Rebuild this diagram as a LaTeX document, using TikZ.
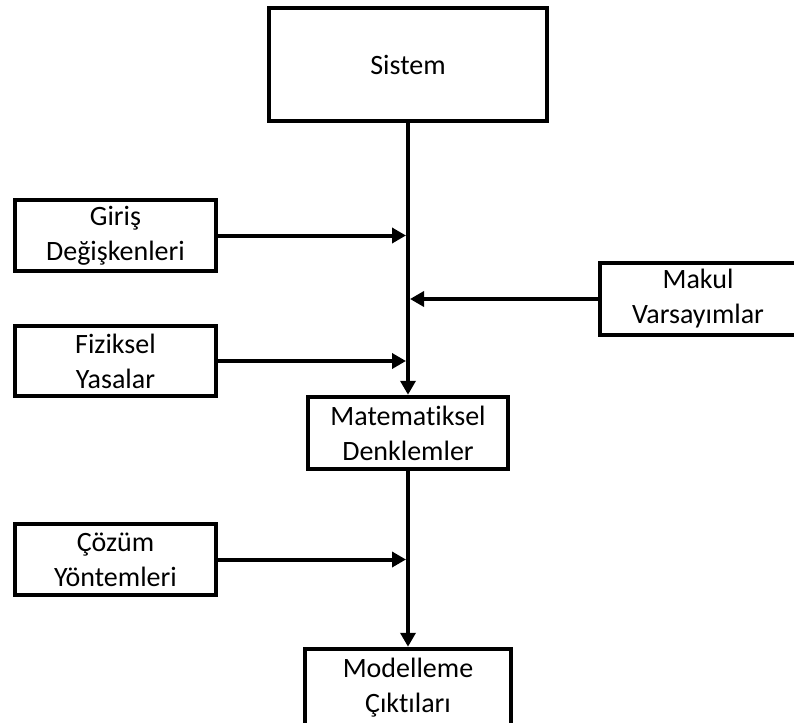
\documentclass[tikz,border=0pt]{standalone}
\usepackage{fontspec}
\setmainfont[Ligatures=NoCommon]{Carlito}
\usetikzlibrary{arrows.meta}
\begin{document}
\begin{tikzpicture}[x=1pt, y=-1pt,
        kutu/.style={draw, line width=4.5pt, align=center, inner sep=0pt,
            font=\fontsize{28}{35}\selectfont},
        ok/.style={line width=4pt, -{Triangle[length=14pt, width=15pt]}}]
        \clip (0,0) rectangle (794,722);
        \node[kutu, minimum width=278pt, minimum height=113pt] (sistem) at (408,64.5) {Sistem};
        \node[kutu, minimum width=201pt, minimum height=71pt] (giris) at (115.5,235.5) {Giriş\\Değişkenleri};
        \node[kutu, minimum width=196pt, minimum height=72pt] (makul) at (698,299) {Makul\\Varsayımlar};
        \node[kutu, minimum width=201pt, minimum height=70pt] (fiziksel) at (115.5,361) {Fiziksel\\Yasalar};
        \node[kutu, minimum width=200pt, minimum height=72pt] (denklem) at (408,433) {Matematiksel\\Denklemler};
        \node[kutu, minimum width=201pt, minimum height=71pt] (cozum) at (115.5,559.5) {Çözüm\\Yöntemleri};
        \node[kutu, minimum width=206pt, minimum height=78pt, text depth=6pt] (cikti) at (408,688) {Modelleme\\Çıktıları};
        \draw[ok] (sistem.south) -- (denklem.north);
        \draw[ok] (denklem.south) -- (cikti.north);
        \draw[ok, shorten >=2pt] (giris.east) -- (giris.east -| sistem.south);
        \draw[ok, shorten >=2pt] (makul.west) -- (makul.west -| sistem.south);
        \draw[ok, shorten >=2pt] (fiziksel.east) -- (fiziksel.east -| sistem.south);
        \draw[ok, shorten >=2pt] (cozum.east) -- (cozum.east -| denklem.south);
\end{tikzpicture}
\end{document}
